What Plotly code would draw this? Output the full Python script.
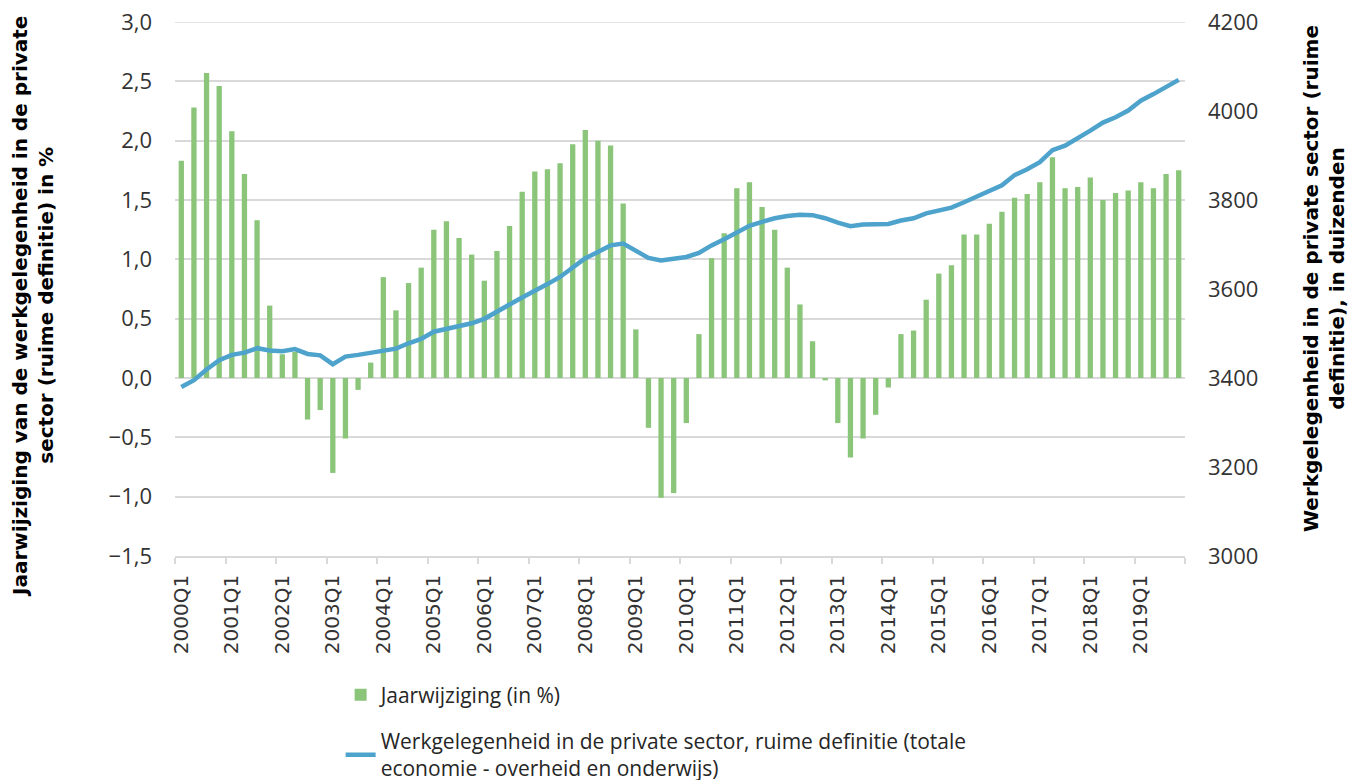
import plotly.graph_objects as go

quarters = [f"{y}Q{q}" for y in range(2000, 2020) for q in range(1, 5)]

jaarwijziging = [
    1.83, 2.28, 2.57, 2.46, 2.08, 1.72, 1.33, 0.61, 0.20, 0.22,
    -0.35, -0.27, -0.80, -0.51, -0.10, 0.13, 0.85, 0.57, 0.80, 0.93,
    1.25, 1.32, 1.18, 1.04, 0.82, 1.07, 1.28, 1.57, 1.74, 1.76,
    1.81, 1.97, 2.09, 2.00, 1.96, 1.47, 0.41, -0.42, -1.01, -0.97,
    -0.38, 0.37, 1.01, 1.22, 1.60, 1.65, 1.44, 1.25, 0.93, 0.62,
    0.31, -0.02, -0.38, -0.67, -0.51, -0.31, -0.08, 0.37, 0.40, 0.66,
    0.88, 0.95, 1.21, 1.21, 1.30, 1.40, 1.52, 1.55, 1.65, 1.86,
    1.60, 1.61, 1.69, 1.50, 1.56, 1.58, 1.65, 1.60, 1.72, 1.75,
]

werkgelegenheid = [
    3380, 3395, 3419, 3440, 3452, 3457, 3467, 3462, 3460, 3465,
    3454, 3451, 3431, 3448, 3452, 3457, 3463, 3466, 3478, 3488,
    3504, 3510, 3518, 3523, 3533, 3548, 3565, 3581, 3595, 3611,
    3627, 3649, 3669, 3683, 3698, 3702, 3686, 3670, 3664, 3667,
    3672, 3681, 3698, 3712, 3728, 3742, 3751, 3759, 3764, 3767,
    3766, 3759, 3749, 3741, 3745, 3746, 3746, 3754, 3759, 3770,
    3776, 3783, 3795, 3807, 3819, 3833, 3856, 3869, 3885, 3912,
    3922, 3938, 3956, 3974, 3986, 4001, 4023, 4038, 4055, 4070,
]

left_range = [-1.5, 3.0]
left_step = 0.5
right_range = [3000, 4200]
right_step = 200

bar_name = "Jaarwijziging (in %)"
line_name = ("Werkgelegenheid in de private sector, ruime definitie (totale<br>"
             "economie - overheid en onderwijs)")
left_title = ["Jaarwijziging van de werkgelegenheid in de private",
              "sector (ruime definitie) in %"]
right_title = ["Werkgelegenheid in de private sector (ruime",
               "definitie), in duizenden"]

x_idx = list(range(len(quarters)))
tick_idx = x_idx[::4]
tick_txt = quarters[::4]

FONT = "Open Sans"
TITLE_FONT = "DejaVu Sans"
GRID = "#d9d9d9"
TICKCOL = "#333333"

fig = go.Figure()
fig.add_trace(go.Bar(
    x=x_idx, y=jaarwijziging, name=bar_name, width=0.42,
    marker=dict(color="#8AC57A", line=dict(width=0)),
    legendgroup="a", yaxis="y",
))
fig.add_trace(go.Scatter(
    x=x_idx, y=werkgelegenheid, name=line_name, mode="lines",
    line=dict(color="#4DA3CC", width=4.5),
    legendgroup="b", yaxis="y2",
))

def bold(lines):
    return "<br>".join(f"<b>{l}</b>" for l in lines)

# page body has an 8px default margin; figure sized to fit the window
W, H = 1357, 772
fig.update_layout(
    width=W, height=H,
    margin=dict(l=167, r=W - 1177, t=14, b=H - 548, autoexpand=False),
    paper_bgcolor="white", plot_bgcolor="white",
    font=dict(family=FONT, size=21, color=TICKCOL),
    separators=", ",
    xaxis=dict(
        range=[-0.5, 79.5], tickmode="array", tickvals=tick_idx, ticktext=tick_txt,
        tickangle=-90, ticks="", showgrid=False, zeroline=False,
        showline=True, linecolor=GRID, linewidth=1.5, ticklabelstandoff=9,
        tickfont=dict(family="DejaVu Sans", size=20, color=TICKCOL),
        minor=dict(tick0=-0.5, dtick=4, ticks="outside", ticklen=6,
                   tickcolor=GRID, tickwidth=1.5, showgrid=False),
    ),
    yaxis=dict(
        range=left_range, tickmode="linear", tick0=left_range[0], dtick=left_step,
        tickformat=".1f",
        showgrid=True, gridcolor=GRID, gridwidth=1.5,
        zeroline=True, zerolinecolor=GRID, zerolinewidth=1.5,
        ticks="", ticklabelstandoff=22, ticklabeloverflow="allow",
        tickfont=dict(family=FONT, size=22, color=TICKCOL),
    ),
    yaxis2=dict(
        range=right_range, tickmode="linear", tick0=right_range[0], dtick=right_step,
        tickformat="d",
        overlaying="y", side="right", showgrid=False, zeroline=False,
        ticks="", ticklabelstandoff=22, ticklabeloverflow="allow",
        tickfont=dict(family=FONT, size=22, color=TICKCOL),
    ),
    legend=dict(
        orientation="v", x=0.164, xanchor="left", y=-0.222, yanchor="top",
        font=dict(family=FONT, size=21, color="#262626"),
        tracegroupgap=16, bgcolor="rgba(0,0,0,0)", itemwidth=30,
    ),
    showlegend=True,
    annotations=[
        dict(text=bold(left_title), xref="paper", yref="paper", x=0, y=0.5,
             xanchor="center", yanchor="middle", xshift=-142, yshift=-18, textangle=-90,
             showarrow=False, font=dict(family=TITLE_FONT, size=20, color="#000000")),
        dict(text=bold(right_title), xref="paper", yref="paper", x=1, y=0.5,
             xanchor="center", yanchor="middle", xshift=139, yshift=10, textangle=-90,
             showarrow=False, font=dict(family=TITLE_FONT, size=20, color="#000000")),
    ],
)

# top gridline (plotly drops the grid line lying on the plot edge)
fig.add_shape(type="line", xref="paper", yref="y", x0=0, x1=1,
              y0=left_range[1], y1=left_range[1],
              line=dict(color=GRID, width=1.5), layer="below")

fig.write_html("out.html")
